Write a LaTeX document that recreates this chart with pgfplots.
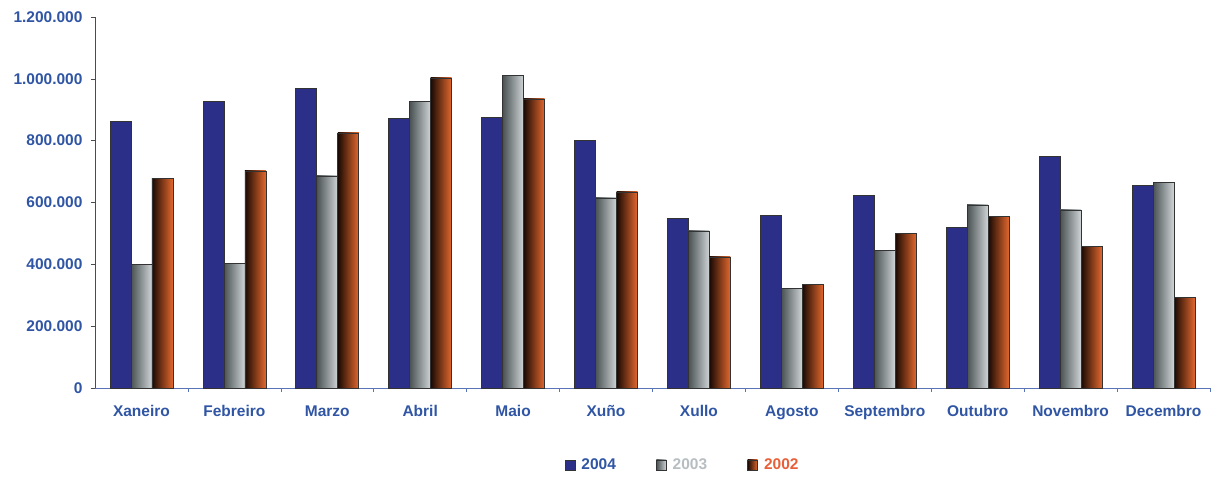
\documentclass[border=0pt]{standalone}
\usepackage{pgfplots}
\usepackage{pgfplotstable}
\pgfplotsset{compat=1.18}
\usepackage{fontspec}
\setmainfont{Liberation Sans}
\definecolor{lblblue}{HTML}{2F55A4}
\definecolor{barblue}{HTML}{2C2F88}
\definecolor{grayL}{HTML}{4A5254}
\definecolor{grayR}{HTML}{D0D5D7}
\definecolor{orL}{HTML}{1A0A04}
\definecolor{orR}{HTML}{E4682E}
\definecolor{txt03}{HTML}{B7BEC1}
\definecolor{txt02}{HTML}{E8603A}
\definecolor{xline}{HTML}{5A74B8}
\pgfplotstableread{
x  y2004   y2003   y2002
0  863000  401000  679000
1  928000  404000  702000
2  970000  686000  825000
3  873000  928000  1003000
4  877000  1012000 935000
5  802000  615000  634000
6  550000  508000  424000
7  560000  323000  336000
8  624000  446000  501000
9  521000  592000  556000
10 750000  576000  459000
11 657000  666000  294000
}\data
\begin{document}
\begin{tikzpicture}
\begin{axis}[
  scale only axis,
  width=1115pt, height=371pt,
  xmin=-0.5, xmax=11.5,
  ymin=0, ymax=1200000,
  ytick={0,200000,...,1200000},
  scaled y ticks=false,
  /pgf/number format/.cd, fixed, 1000 sep={.}, assume math mode=true,
  /pgfplots/.cd,
  axis lines*=left,
  axis line style={-},
  x axis line style={draw=xline, line width=0.8pt},
  y axis line style={draw=black!70, line width=0.8pt},
  tick align=outside,
  major tick length=4pt,
  ytick style={draw=black!70, line width=0.6pt},
  xtick={0,...,11},
  xticklabels={Xaneiro,Febreiro,Marzo,Abril,Maio,Xuño,Xullo,Agosto,Septembro,Outubro,Novembro,Decembro},
  xtick style={draw=none},
  extra x ticks={0.5,1.5,...,11.5},
  extra x tick labels={},
  extra x tick style={xtick style={draw=xline, line width=0.6pt}, major tick length=4pt},
  ticklabel style={font=\fontsize{15.5}{18}\selectfont\bfseries, text=lblblue},
  yticklabel style={xshift=-5pt},
  xticklabel style={yshift=-25pt, anchor=base, text height=11pt, text depth=3pt},
  ybar, bar width=21pt,
  legend columns=3,
  legend style={at={(rel axis cs:0.527,-0.2075)}, anchor=center, draw=none, fill=none,
    font=\fontsize{15.5}{18}\selectfont\bfseries,
    /tikz/every odd column/.append style={column sep=4pt},
    /tikz/every even column/.append style={column sep=38pt}},
  legend image code/.code={\draw[#1,/tikz/.cd,line width=0.8pt] (0pt,-5pt) rectangle (10pt,5pt);},
  clip=false,
]
\pgfplotsinvokeforeach{0,...,11}{
  \addplot[forget plot, bar shift=-21pt, fill=barblue, draw=black!80, line width=0.6pt,
    x filter/.expression={x==#1 ? x : nan}] table[x=x, y=y2004] {\data};
  \addplot[forget plot, bar shift=0pt, left color=grayL, right color=grayR, draw=black!80, line width=0.6pt,
    x filter/.expression={x==#1 ? x : nan}] table[x=x, y=y2003] {\data};
  \addplot[forget plot, bar shift=21pt, left color=orL, right color=orR, draw=black!80, line width=0.6pt,
    x filter/.expression={x==#1 ? x : nan}] table[x=x, y=y2002] {\data};
}
\addlegendimage{fill=barblue, draw=black!80}
\addlegendentry{\textcolor{lblblue}{2004}}
\addlegendimage{left color=grayL, right color=grayR, draw=black!80}
\addlegendentry{\textcolor{txt03}{2003}}
\addlegendimage{left color=orL, right color=orR, draw=black!80}
\addlegendentry{\textcolor{txt02}{2002}}
\coordinate (bbl) at (rel axis cs:-0.0852,-0.2426);
\coordinate (btr) at (rel axis cs:1.009,1.0458);
\end{axis}
\path (bbl) rectangle (btr);
\end{tikzpicture}
\end{document}
